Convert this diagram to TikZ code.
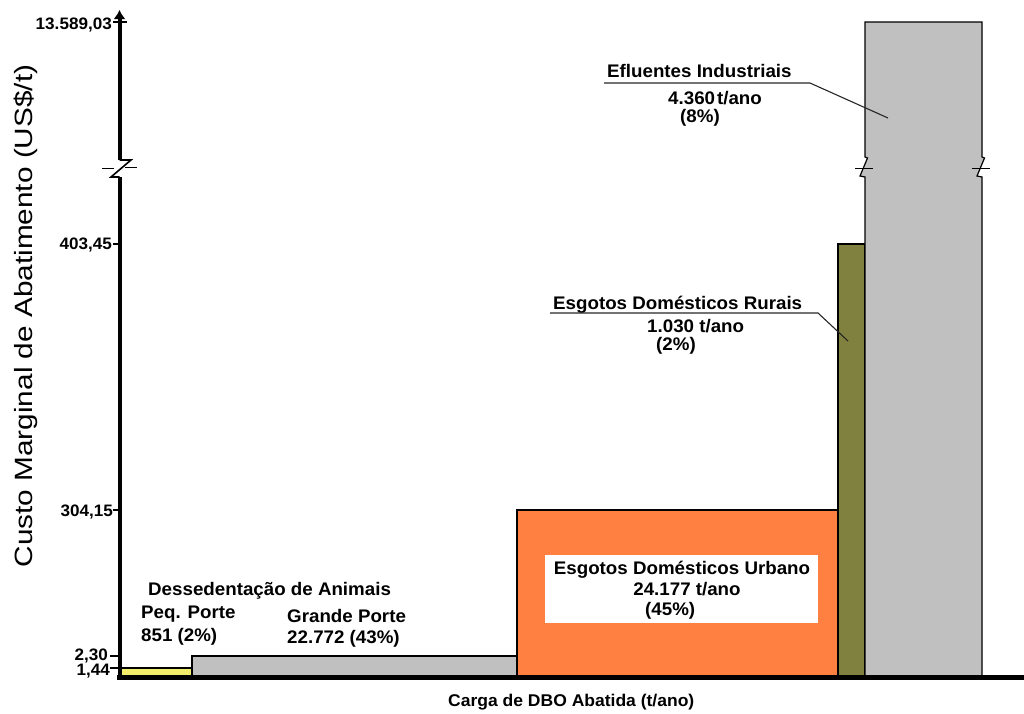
\documentclass[tikz,border=0pt]{standalone}
\usepackage{fontspec}
\setmainfont{Liberation Sans}
\newfontfamily\lblfont{Liberation Sans}[FakeStretch=1.03]
\newfontfamily\ylblfont{Liberation Sans}[FakeStretch=1.19]
\usetikzlibrary{arrows.meta}
\definecolor{baryellow}{HTML}{F2EE6B}
\definecolor{bargray}{HTML}{C0C0C0}
\definecolor{barorange}{HTML}{FF8040}
\definecolor{barolive}{HTML}{80803F}
\begin{document}
\begin{tikzpicture}[x=1pt,y=-1pt,
  bar/.style={draw=black,line width=1.2pt},
  lbl/.style={font={\lblfont\bfseries\fontsize{18.2}{21}\selectfont},inner sep=0pt,anchor=base west},
  ticklbl/.style={font={\lblfont\bfseries\fontsize{16.6}{19}\selectfont},inner sep=0pt,anchor=base east},
  axlbl/.style={font={\lblfont\bfseries\fontsize{17}{20}\selectfont},inner sep=0pt,anchor=base west},
  ticklen/.style={line width=1.4pt},
  breakline/.style={line width=1.6pt,line join=miter},
  breakdash/.style={line width=1pt},
  leader/.style={line width=1.1pt,draw=black!85}]
\useasboundingbox (0,0) rectangle (1024,713);

% bars
\draw[bar,fill=baryellow] (120,668) rectangle (192,676);
\draw[bar,fill=bargray] (192,656) rectangle (517,676);
\draw[bar,fill=barorange] (517,510) rectangle (838,676);
\draw[bar,fill=barolive] (838,244) rectangle (865,676);
\draw[bar,fill=bargray,line join=miter]
  (865,22) -- (982,22) -- (982,157) -- (984.5,158) -- (977,176) -- (982,177)
  -- (982,676) -- (865,676) -- (865,177) -- (860,176) -- (867.5,158) -- (865,157) -- cycle;
\draw[breakdash] (855,168) -- (873,168);
\draw[breakdash] (972,168) -- (990,168);

% white panel inside the orange bar
\node[fill=white,minimum width=273pt,minimum height=68pt,inner sep=0pt] (ubox) at (681.5,589) {};

% axes
\draw[line width=4.5pt] (117.3,677.5) -- (1024,677.5);
\draw[line width=4pt] (119.5,679.7) -- (119.5,177);
\draw[line width=4pt,-{Latex[length=9pt,width=12pt]}] (119.5,160) -- (119.5,10);
\draw[breakline] (119.5,160) -- (131,160) -- (111,177) -- (119.5,177);
\draw[breakdash] (102,168) -- (114,168);
\draw[breakdash] (125,167.5) -- (137,167.5);

% ticks and tick labels
\draw[ticklen] (113,22) -- (127,22);
\draw[ticklen] (113,244) -- (119,244);
\draw[ticklen] (113,510) -- (119,510);
\draw[ticklen] (110,656) -- (119,656);
\draw[ticklen] (110,668) -- (119,668);
\node[ticklbl] (t1) at (112,29.5) {13.589,03};
\node[ticklbl] (t2) at (112,249.5) {403,45};
\node[ticklbl] (t3) at (113,516) {304,15};
\node[ticklbl] (t4) at (108,660) {2,30};
\node[ticklbl] (t5) at (110,675) {1,44};

% axis titles
\node[axlbl] (xt) at (448,706) {Carga de DBO Abatida (t/ano)};
\node[font={\ylblfont\fontsize{25}{28}\selectfont},inner sep=0pt,anchor=base,rotate=90] (yt) at (32,316) {Custo Marginal de Abatimento (US\$/t)};

% industrial effluents
\node[lbl] (efl) at (607,77) {Efluentes Industriais};
\node[lbl] (eflq) at (668,104) {4.360\kern2pt t/ano};
\node[lbl] (eflp) at (680,122.5) {(8\%)};
\coordinate (e1) at (604,83);
\coordinate (e2) at (810,83);
\coordinate (e3) at (888,118);
\draw[leader] (e1) -- (e2) -- (e3);

% rural sewage
\node[lbl] (rur) at (553,309) {Esgotos Domésticos Rurais};
\node[lbl] (rurq) at (647,332.5) {1.030 t/ano};
\node[lbl] (rurp) at (656,350.5) {(2\%)};
\coordinate (r1) at (550,313);
\coordinate (r2) at (818,313);
\coordinate (r3) at (848,341);
\draw[leader] (r1) -- (r2) -- (r3);

% urban sewage
\node[lbl,anchor=base] (urb) at (682,574) {Esgotos Domésticos Urbano};
\node[lbl,anchor=base] (urbq) at (687,595) {24.177 t/ano};
\node[lbl] (urbp) at (645,615) {(45\%)};

% animal watering
\node[lbl] (des) at (148,595) {Dessedentação de Animais};
\node[lbl] (peq) at (141,618) {Peq. Porte};
\node[lbl] (peqv) at (141,641) {851 (2\%)};
\node[lbl] (gra) at (287,622) {Grande Porte};
\node[lbl] (grav) at (287,643) {22.772 (43\%)};
\end{tikzpicture}
\end{document}
